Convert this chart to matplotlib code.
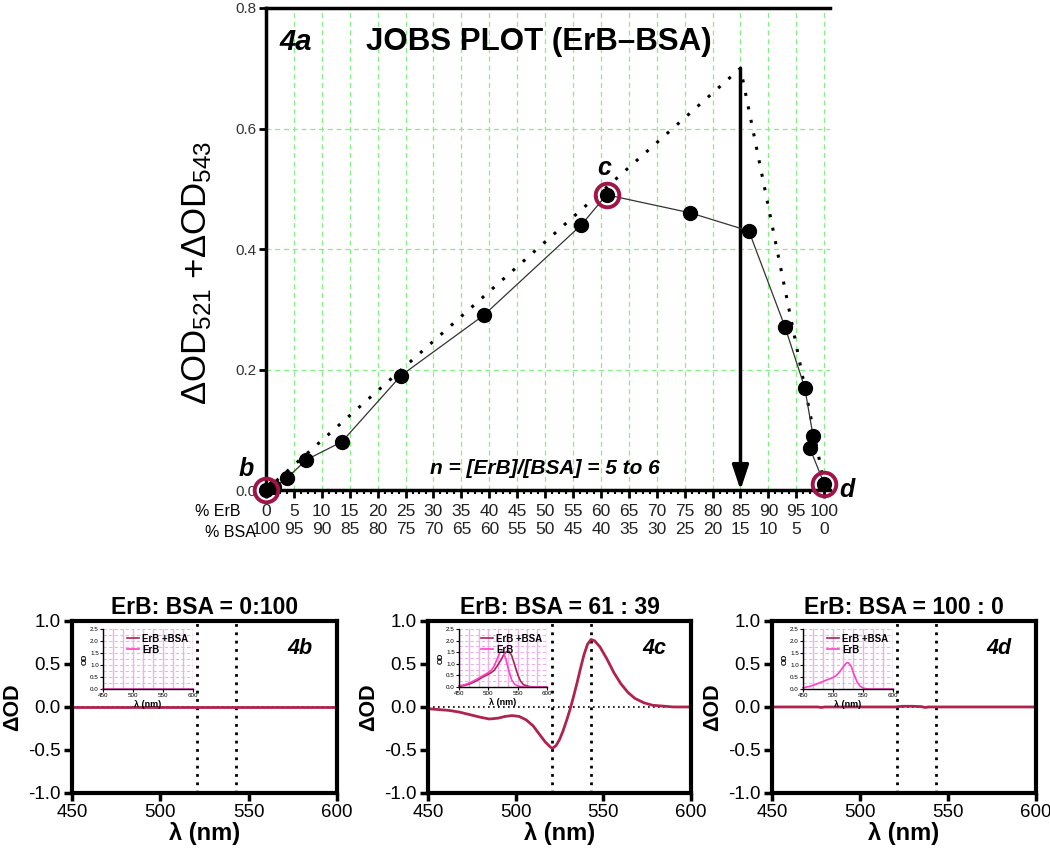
import numpy as np
import matplotlib.pyplot as plt
from matplotlib.ticker import MultipleLocator, AutoMinorLocator

plt.rcParams['font.family'] = ['Liberation Sans', 'DejaVu Sans']
plt.rcParams['mathtext.fontset'] = 'custom'
plt.rcParams['mathtext.rm'] = 'Liberation Sans'
plt.rcParams['mathtext.default'] = 'regular'

# --- 4a: Job's plot data ---
erb_pct = [0, 1.5, 3.8, 7.2, 13.6, 24.2, 39, 56.5, 61, 76, 86.5, 93, 96.5, 98, 97.4, 100]
d_od = [0.0, 0.005, 0.02, 0.05, 0.08, 0.19, 0.29, 0.44, 0.49, 0.46, 0.43, 0.27, 0.17, 0.09, 0.07, 0.01]
ring_x = [0, 61, 100]
ring_y = [0.0, 0.49, 0.01]
tangent_x = [0, 85, 100]
tangent_y = [0.0, 0.70, 0.01]
arrow_x = 85
erb_ticks = list(range(0, 101, 5))
bsa_ticks = [100 - v for v in erb_ticks]

# --- 4b-4d: difference spectra ---
wl_b = [450, 500, 550, 600]
dod_b = [0.0, 0.0, 0.0, 0.0]

wl_c = [450, 456, 462, 468, 474, 480, 485, 490, 494, 498, 502, 506, 510, 514, 517, 520, 521,
        523, 525, 527, 529, 531, 533, 535, 537, 539, 541, 543, 545, 548, 552, 556, 560,
        564, 568, 573, 578, 584, 590, 600]
dod_c = [-0.02, -0.03, -0.04, -0.06, -0.09, -0.12, -0.14, -0.13, -0.11, -0.10, -0.11, -0.15,
         -0.22, -0.33, -0.41, -0.47, -0.48, -0.45, -0.38, -0.28, -0.16, -0.03, 0.12, 0.28,
         0.45, 0.61, 0.73, 0.785, 0.77, 0.70, 0.56, 0.40, 0.27, 0.17, 0.10, 0.05, 0.02,
         0.01, 0.0, 0.0]

wl_d = [450, 476, 478, 480, 520, 524, 530, 535, 537, 539, 600]
dod_d = [0.0, 0.0, -0.006, 0.0, 0.0, 0.008, 0.008, 0.004, -0.006, 0.0, 0.0]

# --- insets: absorbance spectra ---
in_wl = [450, 460, 470, 480, 490, 500, 505, 510, 515, 520, 523, 526, 530, 535, 540, 545,
         550, 555, 560, 570, 580, 600]
in_erb_c = [0.05, 0.1, 0.2, 0.33, 0.48, 0.62, 0.72, 0.9, 1.2, 1.5, 1.55, 1.5, 1.2, 0.7,
            0.3, 0.12, 0.05, 0.02, 0.0, 0.0, 0.0, 0.0]
in_mix_c = [0.03, 0.07, 0.15, 0.27, 0.42, 0.55, 0.62, 0.72, 0.9, 1.1, 1.22, 1.38, 1.5, 1.55,
            1.35, 0.95, 0.55, 0.25, 0.1, 0.02, 0.0, 0.0]
in_erb_d = [0.05, 0.1, 0.18, 0.28, 0.38, 0.48, 0.55, 0.68, 0.85, 1.02, 1.1, 1.08, 0.95, 0.6,
            0.3, 0.12, 0.04, 0.01, 0.0, 0.0, 0.0, 0.0]
in_zero = [0.0] * len(in_wl)

crimson = '#b0234e'
magenta = '#ff40c8'
pink_grid = '#eeb0ee'

fig = plt.figure(figsize=(10.5, 8.51), dpi=100)

# ================= 4a =================
ax = fig.add_axes([0.2533, 0.4242, 0.537, 0.5664])
ax.set_xlim(0, 101)
ax.set_ylim(0, 0.8)
ax.set_xticks(erb_ticks)
ax.set_xticklabels([f'{a}\n{b}' for a, b in zip(erb_ticks, bsa_ticks)], fontsize=12.5,
                   linespacing=1.25, color='#222222')
ax.xaxis.set_minor_locator(MultipleLocator(1.25))
ax.set_yticks([0, 0.2, 0.4, 0.6, 0.8])
ax.set_yticklabels(['0.0', '0.2', '0.4', '0.6', '0.8'], fontsize=11, color='#333333')
ax.grid(True, color='#86ee86', linestyle=(0, (4, 3)), linewidth=0.9)
ax.set_axisbelow(True)
ax.spines['right'].set_visible(False)
for s in ['left', 'bottom', 'top']:
    ax.spines[s].set_linewidth(2.5)
ax.tick_params(axis='x', which='major', length=6, width=2, pad=4)
ax.tick_params(axis='x', which='minor', length=3, width=1.5)
ax.tick_params(axis='y', length=5, width=2, pad=2)

ax.plot(tangent_x, tangent_y, color='black', linestyle=(0, (1, 3.5)), linewidth=2.2,
        clip_on=False)
ax.plot(erb_pct, d_od, color='#333333', linewidth=0.9, marker='o', markersize=10,
        markerfacecolor='black', markeredgecolor='black', clip_on=False, zorder=4)
ax.plot(ring_x, ring_y, linestyle='none', marker='o', markersize=17,
        markerfacecolor='none', markeredgecolor='#a0144a', markeredgewidth=2.8,
        clip_on=False, zorder=5)
ax.annotate('', xy=(arrow_x, 0.0), xytext=(arrow_x, 0.70),
            arrowprops=dict(arrowstyle='-|>,head_length=1.5,head_width=0.5',
                            color='black', lw=2.5, shrinkA=0, shrinkB=0))

ax.text(-3.6, 0.035, 'b', fontsize=18, fontweight='bold', style='italic', ha='center',
        va='center')
ax.text(60.5, 0.535, 'c', fontsize=18, fontweight='bold', style='italic', ha='center',
        va='center')
ax.text(104, 0.0, 'd', fontsize=18, fontweight='bold', style='italic', ha='center',
        va='center')
ax.text(2.5, 0.743, '4a', fontsize=21, fontweight='bold', style='italic', va='center')
ax.text(18.0, 0.743, 'JOBS PLOT (ErB\u2013BSA)', fontsize=22.5, fontweight='bold',
        va='center')
ax.text(50, 0.035, 'n = [ErB]/[BSA] = 5 to 6', fontsize=15, fontweight='bold',
        style='italic', ha='center', va='center')
ax.set_ylabel('\u0394OD$_{521}$ +\u0394OD$_{543}$', fontsize=25, labelpad=10)
ax.yaxis.set_label_coords(-0.092, 0.45)
ax.text(-4.5, -0.036, '% ErB', fontsize=11.5, ha='right', va='center')
ax.text(-1.8, -0.071, '% BSA', fontsize=11.5, ha='right', va='center')

# ================= 4b-4d =================
panels = [
    ([0.0686, 0.0682, 0.2524, 0.2021], 'ErB: BSA = 0:100', '4b', wl_b, dod_b,
     [0.0981, 0.1904, 0.0857, 0.0705], None, in_zero),
    ([0.4076, 0.0682, 0.2505, 0.2021], 'ErB: BSA = 61 : 39', '4c', wl_c, dod_c,
     [0.4371, 0.1927, 0.0838, 0.0682], in_mix_c, in_erb_c),
    ([0.7352, 0.0682, 0.2514, 0.2021], 'ErB: BSA = 100 : 0', '4d', wl_d, dod_d,
     [0.7648, 0.1904, 0.0857, 0.0705], None, in_erb_d),
]

for rect, title, tag, wl, dod, irect, mix, erb in panels:
    bx = fig.add_axes(rect)
    bx.set_xlim(450, 600)
    bx.set_ylim(-1.0, 1.0)
    bx.set_xticks([450, 500, 550, 600])
    bx.set_yticks([1.0, 0.5, 0.0, -0.5, -1.0])
    bx.set_yticklabels(['1.0', '0.5', '0.0', '-0.5', '-1.0'])
    bx.tick_params(labelsize=13.5, length=6, width=2.5, pad=2)
    for s in bx.spines.values():
        s.set_linewidth(3)
    bx.axhline(0, color='black', linestyle=(0, (1, 2)), linewidth=1.2)
    for x0 in (521, 543):
        bx.axvline(x0, color='black', linestyle=(0, (1, 2)), linewidth=2)
    bx.plot(wl, dod, color=crimson, linewidth=2)
    bx.set_title(title, fontsize=16.5, fontweight='bold', pad=5)
    bx.set_xlabel('\u03bb (nm)', fontsize=17, fontweight='bold', labelpad=1)
    bx.set_ylabel('\u0394OD', fontsize=15.5, fontweight='bold', labelpad=4)
    bx.text(0.86, 0.84, tag, transform=bx.transAxes, fontsize=15.5, fontweight='bold',
            style='italic', ha='center', va='center')

    ix = fig.add_axes(irect)
    ix.set_xlim(450, 600)
    ix.set_ylim(0, 2.5)
    ix.set_xticks([450, 500, 550, 600])
    ix.set_yticks([0.0, 0.5, 1.0, 1.5, 2.0, 2.5])
    ix.set_yticklabels(['0.0', '0.5', '1.0', '1.5', '2.0', '2.5'])
    ix.xaxis.set_minor_locator(AutoMinorLocator(3))
    ix.yaxis.set_minor_locator(AutoMinorLocator(2))
    ix.tick_params(labelsize=4.5, length=2, width=0.8, pad=1)
    ix.tick_params(which='minor', length=0)
    ix.grid(True, axis='x', which='both', color=pink_grid, linewidth=1.0)
    ix.grid(True, axis='y', which='both', color=pink_grid, linewidth=0.8,
            linestyle=(0, (3, 2)))
    ix.set_axisbelow(True)
    ix.spines['top'].set_visible(False)
    ix.spines['right'].set_visible(False)
    ix.spines['left'].set_linewidth(1)
    ix.spines['bottom'].set_linewidth(1)
    h1, = ix.plot([], [], color=crimson, linewidth=1.2, label='ErB +BSA')
    if mix is not None:
        ix.plot(in_wl, mix, color=crimson, linewidth=1.2)
    h2, = ix.plot(in_wl, erb, color=magenta, linewidth=1.2, label='ErB', clip_on=False)
    ix.legend(handles=[h1, h2], loc='upper right', frameon=False,
              prop={'weight': 'bold', 'size': 7}, handlelength=1.2, handletextpad=0.3,
              borderaxespad=0.1, labelspacing=0.1)
    ix.set_ylabel('OD', fontsize=5.5, fontweight='bold', labelpad=1)
    ix.set_xlabel('\u03bb (nm)', fontsize=6.5, fontweight='bold', labelpad=1)

fig.savefig('out.png', dpi=100)
